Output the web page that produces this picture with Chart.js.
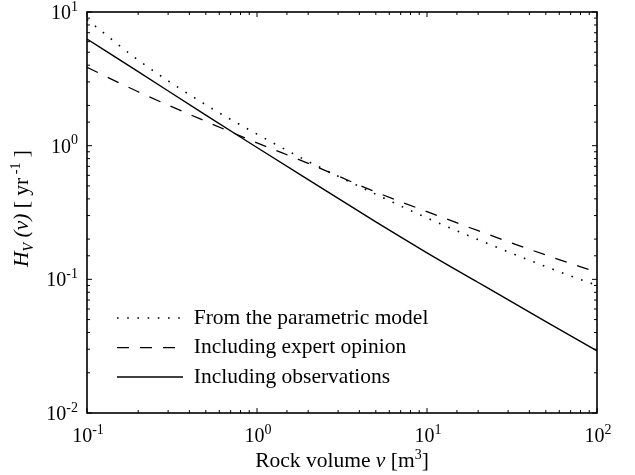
<!DOCTYPE html>
<html><head><meta charset="utf-8">
<script src="https://cdn.jsdelivr.net/npm/chart.js@4.4.1/dist/chart.umd.min.js"></script>
<style>html,body{margin:0;padding:0;background:#fff}</style>
</head><body>
<canvas id="c" width="635" height="475" style="display:block;width:635px;height:475px"></canvas>
<script>
// ---- data ----
const volumes = [0.1, 0.2, 0.5, 1, 2, 5, 10, 20, 50, 100];
const parametric = [8.8, 4.37, 2.02, 1.22, 0.762, 0.433, 0.288, 0.198, 0.1245, 0.090];
const expert = [3.86, 2.53, 1.52, 1.05, 0.738, 0.450, 0.321, 0.231, 0.152, 0.113];
const observations = [6.28, 3.58, 1.69, 0.969, 0.557, 0.269, 0.158, 0.0947, 0.0483, 0.0292];
const seriesNames = ['From the parametric model', 'Including expert opinion', 'Including observations'];
const xTickValues = [0.1, 1, 10, 100];
const xTickLabels = ['10^-1', '10^0', '10^1', '10^2'];
const yTickValues = [0.01, 0.1, 1, 10];
const yTickLabels = ['10^-2', '10^-1', '10^0', '10^1'];

const FONT = "'Liberation Serif','Times New Roman',serif";
const pts = arr => volumes.map((v, i) => ({x: v, y: arr[i]}));
const isDecade = v => Math.abs(Math.log10(v) - Math.round(Math.log10(v))) < 1e-9;

function setF(ctx, p) { ctx.font = (p.it ? 'italic ' : '') + p.s + 'px ' + FONT; }
function richWidth(ctx, parts) {
  let w = 0;
  parts.forEach(p => { setF(ctx, p); w += ctx.measureText(p.t).width; });
  return w;
}
// align: 'center' | 'right'
function drawRich(ctx, parts, x, y, align) {
  const w = richWidth(ctx, parts);
  let cx = align === 'right' ? x - w : x - w / 2;
  ctx.textAlign = 'left'; ctx.textBaseline = 'alphabetic'; ctx.fillStyle = '#000';
  parts.forEach(p => { setF(ctx, p); ctx.fillText(p.t, cx, y + (p.dy || 0)); cx += ctx.measureText(p.t).width; });
}
const powParts = lab => {
  const [b, e] = lab.split('^');
  return [{t: b, s: 20}, {t: e, s: 14, dy: -8.5}];
};

const framePlugin = {
  id: 'frame',
  afterDatasetsDraw(chart) {
    const {ctx, chartArea: a, scales: {x, y}} = chart;
    ctx.save();
    ctx.strokeStyle = '#000';
    ctx.lineWidth = 1;
    const seg = (x1, y1, x2, y2) => { ctx.beginPath(); ctx.moveTo(x1, y1); ctx.lineTo(x2, y2); ctx.stroke(); };
    x.ticks.forEach(t => {
      const px = x.getPixelForValue(t.value);
      const L = isDecade(t.value) ? 5 : 3;
      seg(px, a.bottom, px, a.bottom - L);
      seg(px, a.top, px, a.top + L);
    });
    y.ticks.forEach(t => {
      const py = y.getPixelForValue(t.value);
      const L = isDecade(t.value) ? 5 : 3;
      seg(a.left, py, a.left + L, py);
      seg(a.right, py, a.right - L, py);
    });
    ctx.lineWidth = 1.6;
    ctx.strokeRect(a.left, a.top, a.right - a.left, a.bottom - a.top);
    ctx.restore();
  },
  afterDraw(chart) {
    const {ctx, chartArea: a, scales: {x, y}} = chart;
    ctx.save();
    // tick labels
    xTickValues.forEach((v, i) => drawRich(ctx, powParts(xTickLabels[i]), x.getPixelForValue(v) + 1, a.bottom + 29, 'center'));
    yTickValues.forEach((v, i) => drawRich(ctx, powParts(yTickLabels[i]), a.left - 9, y.getPixelForValue(v) + 7, 'right'));
    // axis titles
    drawRich(ctx, [
      {t: 'Rock volume ', s: 21.5}, {t: 'v', s: 21.5, it: true}, {t: ' [m', s: 21.5},
      {t: '3', s: 14, dy: -8}, {t: ']', s: 21.5}
    ], (a.left + a.right) / 2, 467, 'center');
    ctx.translate(28, (a.top + a.bottom) / 2 - 4);
    ctx.rotate(-Math.PI / 2);
    drawRich(ctx, [
      {t: 'H', s: 21.5, it: true}, {t: 'V', s: 14, it: true, dy: 5}, {t: ' (v) ', s: 21.5, it: true},
      {t: '[ yr', s: 21.5}, {t: ' -1', s: 14, dy: -8}, {t: ' ]', s: 21.5}
    ], 0, 0, 'center');
    ctx.restore();
  }
};

const legendPlace = {
  id: 'legendPlace',
  afterLayout(chart) {
    const lg = chart.legend;
    if (!lg) return;
    const pad = lg.options.labels.padding;
    lg.left = 117 - pad; lg.right = lg.left + 400;
    lg.top = 299.3; lg.bottom = lg.top + 200;
  }
};

const base = {pointRadius: 0, borderColor: '#000', backgroundColor: '#000', fill: false,
              cubicInterpolationMode: 'monotone', borderCapStyle: 'butt'};
new Chart(document.getElementById('c'), {
  type: 'line',
  data: {
    datasets: [
      Object.assign({label: seriesNames[0], data: pts(parametric), borderWidth: 1.6, borderDash: [1.6, 8.6]}, base),
      Object.assign({label: seriesNames[1], data: pts(expert), borderWidth: 1.3, borderDash: [12, 11]}, base),
      Object.assign({label: seriesNames[2], data: pts(observations), borderWidth: 1.4}, base)
    ]
  },
  options: {
    responsive: false, animation: false, devicePixelRatio: 1,
    layout: {padding: {top: 12, right: 38, left: 0, bottom: 0}},
    plugins: {
      tooltip: {enabled: false},
      legend: {
        position: 'chartArea', align: 'start',
        labels: {
          usePointStyle: true, pointStyle: 'line', pointStyleWidth: 66, color: '#000',
          font: {family: FONT, size: 21.5}, padding: 8,
          generateLabels(chart) {
            const items = Chart.defaults.plugins.legend.labels.generateLabels(chart);
            items.forEach((it, i) => {
              const ds = chart.data.datasets[it.datasetIndex !== undefined ? it.datasetIndex : i];
              it.lineDash = ds.borderDash || [];
              it.lineWidth = ds.borderWidth;
              it.strokeStyle = '#000';
              it.lineCap = 'butt';
            });
            return items;
          }
        }
      }
    },
    scales: {
      x: {
        type: 'logarithmic', min: 0.1, max: 100,
        grid: {display: false}, border: {display: false},
        ticks: {display: false, autoSkip: false, maxRotation: 0},
        afterFit: s => { s.height = 62; }
      },
      y: {
        type: 'logarithmic', min: 0.01, max: 10,
        grid: {display: false}, border: {display: false},
        ticks: {display: false, autoSkip: false},
        afterFit: s => { s.width = 87; }
      }
    }
  },
  plugins: [framePlugin, legendPlace]
});
</script>
</body></html>
